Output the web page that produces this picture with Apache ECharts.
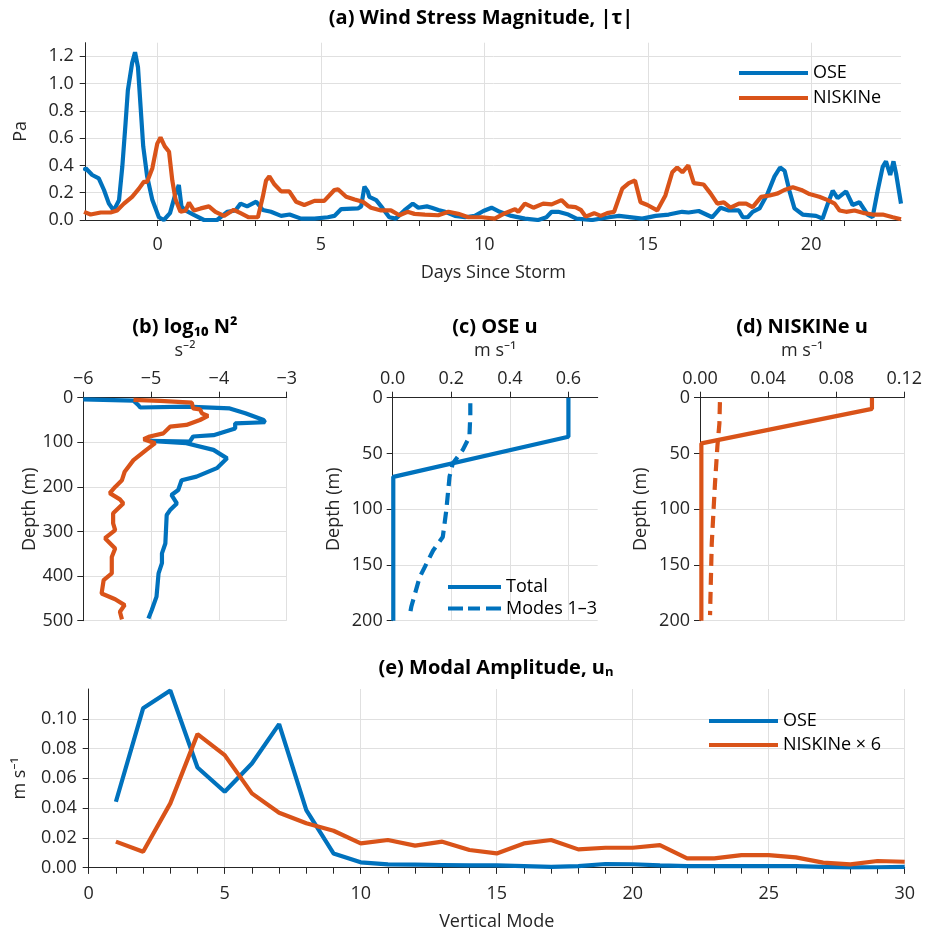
<!DOCTYPE html>
<html>
<head>
<meta charset="utf-8">
<script src="https://cdn.jsdelivr.net/npm/echarts@6/dist/echarts.min.js"></script>
<style>
html,body{margin:0;padding:0;background:#fff}
#chart{width:937px;height:933px}
</style>
</head>
<body>
<div id="chart"></div>
<script>
// (a) wind stress magnitude (Pa) vs days since storm
var oseDays = [-2.25,-2.2,-2.0,-1.8,-1.64,-1.49,-1.34,-1.18,-1.08,-0.98,-0.91,-0.78,-0.69,-0.6,-0.52,-0.44,-0.32,-0.16,0.04,0.19,
  0.38,0.52,0.65,0.73,0.85,1.11,1.42,1.82,2.13,2.38,2.54,2.74,3.02,3.22,3.47,3.78,4.04,4.39,4.8,5.21,
  5.41,5.62,6.13,6.23,6.33,6.43,6.48,6.69,6.89,7.09,7.29,7.55,7.81,7.98,8.24,8.39,8.59,8.8,9.1,9.41,
  9.71,9.97,10.22,10.47,10.83,11.24,11.65,11.9,12.06,12.26,12.57,12.82,13.3,13.81,14.12,14.83,15.24,15.64,16.05,16.25,
  16.56,16.97,17.23,17.48,17.79,17.91,18.06,18.21,18.42,18.67,18.88,19.05,19.19,19.34,19.49,19.74,20.15,20.35,20.51,20.66,
  20.81,21.07,21.27,21.48,21.73,21.88,22.04,22.19,22.29,22.42,22.52,22.6,22.75]
var oseTau = [0.36,0.38,0.33,0.305,0.22,0.12,0.07,0.146,0.39,0.71,0.95,1.15,1.23,1.12,0.83,0.54,0.32,0.146,0.02,0.0,
  0.05,0.17,0.256,0.10,0.07,0.037,0.0,0.0,0.06,0.07,0.12,0.10,0.134,0.073,0.06,0.03,0.04,0.01,0.01,0.02,
  0.03,0.08,0.085,0.10,0.245,0.21,0.17,0.146,0.085,0.02,0.01,0.07,0.12,0.09,0.10,0.09,0.073,0.06,0.03,0.02,
  0.03,0.066,0.09,0.06,0.03,0.01,0.0,0.02,0.06,0.06,0.04,0.01,0.0,0.02,0.03,0.01,0.03,0.04,0.06,0.055,
  0.066,0.02,0.09,0.07,0.07,0.02,0.02,0.06,0.085,0.195,0.32,0.385,0.36,0.21,0.085,0.04,0.03,0.01,0.12,0.215,
  0.16,0.21,0.11,0.13,0.04,0.02,0.22,0.39,0.43,0.33,0.43,0.34,0.12]
var nisDays = [-2.25,-2.05,-1.74,-1.44,-1.24,-1.03,-0.78,-0.57,-0.42,-0.32,-0.16,-0.01,0.09,0.22,0.35,0.45,0.55,0.7,0.86,0.96,
  1.11,1.32,1.57,1.77,2.03,2.33,2.54,2.79,3.07,3.22,3.32,3.42,3.58,3.78,4.03,4.24,4.49,4.8,5.1,5.41,
  5.52,5.77,6.03,6.28,6.53,6.84,7.14,7.4,7.65,7.86,8.18,8.59,8.9,9.2,9.51,9.92,10.32,10.63,10.94,11.04,
  11.24,11.5,11.8,12.06,12.36,12.56,12.79,12.95,13.1,13.36,13.56,13.76,13.97,14.22,14.42,14.61,14.78,14.99,15.29,15.54,
  15.75,15.9,16.06,16.24,16.41,16.71,16.92,17.13,17.33,17.53,17.79,18.01,18.21,18.47,18.73,18.98,19.18,19.44,19.7,19.95,
  20.25,20.51,20.72,20.87,21.07,21.33,21.63,21.88,22.19,22.5,22.75]
var nisTau = [0.06,0.04,0.055,0.055,0.07,0.12,0.17,0.23,0.28,0.28,0.38,0.56,0.605,0.54,0.50,0.29,0.15,0.06,0.07,0.127,
  0.07,0.085,0.10,0.06,0.03,0.075,0.05,0.02,0.02,0.17,0.29,0.32,0.26,0.21,0.21,0.134,0.11,0.14,0.14,0.22,
  0.225,0.17,0.15,0.134,0.09,0.07,0.07,0.035,0.06,0.045,0.04,0.035,0.06,0.045,0.02,0.02,0.01,0.05,0.08,0.06,
  0.12,0.09,0.12,0.115,0.146,0.10,0.095,0.075,0.025,0.05,0.03,0.05,0.06,0.23,0.27,0.29,0.13,0.11,0.07,0.18,
  0.35,0.385,0.35,0.40,0.27,0.26,0.195,0.12,0.13,0.09,0.12,0.12,0.095,0.17,0.18,0.195,0.22,0.24,0.22,0.19,
  0.17,0.146,0.12,0.07,0.06,0.07,0.05,0.04,0.04,0.02,0.005]

// (b) log10 N^2 profiles (s^-2) vs depth (m)
var oseN2 = [-6.0,-5.26,-5.19,-5.16,-4.48,-3.84,-3.61,-3.34,-3.32,-3.76,-3.76,-4.08,-4.38,-4.43,-5.02,-4.48,-4.08,-3.88,-4.03,-4.33,
  -4.55,-4.60,-4.70,-4.62,-4.72,-4.77,-4.79,-4.84,-4.84,-4.89,-4.92,-4.99,-5.04]
var oseN2Depth = [3.7,6.7,16.4,22,20,24,35,50,55,57.5,69,84,87,98.7,97,102,117,136,158,177,
  185,207,218,237,252,263,327,349,371,394,446,476,495]
var nisN2 = [-5.26,-4.87,-4.40,-4.38,-4.28,-4.25,-4.16,-4.28,-4.48,-4.72,-4.82,-5.02,-5.11,-4.94,-5.07,-5.26,-5.39,-5.43,-5.53,-5.61,
  -5.46,-5.41,-5.56,-5.56,-5.53,-5.68,-5.53,-5.58,-5.58,-5.70,-5.73,-5.53,-5.39,-5.46,-5.43]
var nisN2Depth = [5,7,11,24,26,35,41,50,61,65,80,87,93,102,117,140,166,185,200,214,
  228,237,259,282,297,315,338,357,394,409,439,452,465,480,497]

// (c) OSE u (m/s) vs depth
var oseTotalU = [0.6,0.6,0.002,0.002]
var oseTotalDepth = [0,35,71,200]
var oseModesU = [0.265,0.265,0.262,0.239,0.205,0.194,0.183,0.171,0.138,0.092,0.064,0.058]
var oseModesDepth = [5,15,35,47,59,71,101,125,137,161,187,195]

// (d) NISKINe u (m/s) vs depth
var nisTotalU = [0.101,0.101,0.0008,0.0008]
var nisTotalDepth = [0,10,41,200]
var nisModesU = [0.0117,0.0114,0.0102,0.0088,0.0069,0.0059]
var nisModesDepth = [4,23,44,77,131,195]

// (e) modal amplitude (m/s) by vertical mode
var modes = [1,2,3,4,5,6,7,8,9,10,11,12,13,14,15,16,17,18,19,20,21,22,23,24,25,26,27,28,29,30]
var oseAmp = [0.0443,0.107,0.119,0.0673,0.051,0.070,0.0964,0.0387,0.0096,0.0036,
  0.0022,0.002,0.0018,0.0015,0.0015,0.001,0.0005,0.001,0.0025,0.0023,
  0.0015,0.001,0.001,0.001,0.001,0.001,0.0005,0.0002,0.0003,0.0005]
var nisAmp6 = [0.0175,0.0107,0.0432,0.0897,0.0756,0.0499,0.0369,0.0298,0.0248,0.0163,
  0.0186,0.0148,0.0175,0.0119,0.0096,0.0163,0.0186,0.0123,0.0134,0.0134,
  0.0152,0.0063,0.0063,0.0085,0.0085,0.0069,0.0034,0.0022,0.0045,0.004]

// tick labels
var dayTicks = [0,5,10,15,20]
var tauTicks = [0,0.2,0.4,0.6,0.8,1.0,1.2]
var n2Ticks = [-6,-5,-4,-3]
var n2DepthTicks = [0,100,200,300,400,500]
var oseUTicks = [0,0.2,0.4,0.6]
var nisUTicks = [0,0.04,0.08,0.12]
var uDepthTicks = [0,50,100,150,200]
var modeTicks = [0,5,10,15,20,25,30]
var ampTicks = [0,0.02,0.04,0.06,0.08,0.10]

var blue = '#0072BD', orange = '#D95319'
var ink = '#262626', gridCol = '#e0e0e0'
var font = '"Open Sans", "Noto Sans", "DejaVu Sans", sans-serif'
var titleFont = 'bold 20px ' + font
var dashIcon = 'path://M0,0h15v4h-15z M20,0h12v4h-12z M38,0h15v4h-15z'

function pairs(xs, ys) {
  var out = []
  for (var i = 0; i < xs.length; i++) out.push([xs[i], ys[i]])
  return out
}
function steps(a, b) {
  var out = []
  for (var v = a; v <= b; v++) out.push(v)
  return out
}
function fixed(n) { return function (v) { return v.toFixed(n) } }
function minus(v) { return v < 0 ? '\u2212' + Math.abs(v) : '' + v }

function axis(o) {
  var a = {
    type: 'value',
    gridIndex: o.grid,
    min: o.min, max: o.max,
    inverse: !!o.inverse,
    position: o.position,
    axisLine: { show: o.line !== false, onZero: false, lineStyle: { color: ink, width: 1 } },
    axisTick: { show: true, length: 6, lineStyle: { color: ink }, customValues: o.ticks },
    axisLabel: {
      show: o.labels !== false, customValues: o.ticks, formatter: o.fmt,
      color: ink, fontSize: 18, fontFamily: font, margin: o.margin || 10
    },
    splitLine: { show: o.split !== false, lineStyle: { color: gridCol, width: 1 } }
  }
  if (o.name) {
    a.name = o.name
    a.nameLocation = 'middle'
    a.nameGap = o.nameGap
    a.nameTextStyle = { color: ink, fontSize: 18, fontFamily: font }
  }
  return a
}

function line(name, xi, yi, data, color, dashed) {
  return {
    name: name, type: 'line', xAxisIndex: xi, yAxisIndex: yi,
    data: data, symbol: 'none', showSymbol: false, color: color,
    lineStyle: { width: 4.2, color: color, type: dashed ? [12, 7] : 'solid' }
  }
}

function legendBox(items, left, top, width, gap) {
  return {
    data: items, orient: 'vertical', left: left, top: top,
    itemWidth: width, itemHeight: 4, itemGap: gap, selectedMode: false,
    textStyle: { color: '#000', fontSize: 18, lineHeight: 20, fontFamily: font }
  }
}

var chart = echarts.init(document.getElementById('chart'))
chart.setOption({
  animation: false,
  backgroundColor: '#fff',
  textStyle: { fontFamily: font },
  grid: [
    { left: 85.7, top: 42.7, width: 815.3, height: 177.3 },
    { left: 83.3, top: 397.7, width: 203.4, height: 223 },
    { left: 392.7, top: 397.7, width: 205, height: 223 },
    { left: 700, top: 397.7, width: 204.3, height: 223 },
    { left: 88.7, top: 689, width: 816, height: 178.7 }
  ],
  xAxis: [
    axis({ grid: 0, min: -2.2, max: 22.75, position: 'bottom', ticks: dayTicks, name: 'Days Since Storm', nameGap: 44, margin: 16 }),
    axis({ grid: 0, min: -2.2, max: 22.75, position: 'bottom', ticks: steps(0, 22), line: false, labels: false, split: false }),
    axis({ grid: 1, min: -6, max: -3, position: 'top', ticks: n2Ticks, fmt: minus, name: 's\u207B\u00B2', nameGap: 38 }),
    axis({ grid: 2, min: 0, max: 0.7, position: 'top', ticks: oseUTicks, fmt: fixed(1), name: 'm s\u207B\u00B9', nameGap: 38 }),
    axis({ grid: 3, min: 0, max: 0.12, position: 'top', ticks: nisUTicks, fmt: fixed(2), name: 'm s\u207B\u00B9', nameGap: 38 }),
    axis({ grid: 4, min: 0, max: 30, position: 'bottom', ticks: modeTicks, name: 'Vertical Mode', nameGap: 45, margin: 17 }),
    axis({ grid: 4, min: 0, max: 30, position: 'bottom', ticks: steps(0, 30), line: false, labels: false, split: false })
  ],
  yAxis: [
    axis({ grid: 0, min: 0, max: 1.3, position: 'left', ticks: tauTicks, fmt: fixed(1), name: 'Pa', nameGap: 56, margin: 12 }),
    axis({ grid: 1, min: 0, max: 500, inverse: true, position: 'left', ticks: n2DepthTicks, name: 'Depth (m)', nameGap: 44 }),
    axis({ grid: 2, min: 0, max: 200, inverse: true, position: 'left', ticks: uDepthTicks, name: 'Depth (m)', nameGap: 50 }),
    axis({ grid: 3, min: 0, max: 200, inverse: true, position: 'left', ticks: uDepthTicks, name: 'Depth (m)', nameGap: 50 }),
    axis({ grid: 4, min: 0, max: 0.12, position: 'left', ticks: ampTicks, fmt: fixed(2), name: 'm s\u207B\u00B9', nameGap: 60, margin: 12 })
  ],
  legend: [
    legendBox([{ name: 'OSE', icon: 'rect' }, { name: 'NISKINe', icon: 'rect' }], 734, 58, 69, 5),
    legendBox([{ name: 'Total', icon: 'rect' }, { name: 'Modes 1\u20133', icon: dashIcon }], 443, 572, 53, 1.5),
    legendBox([{ name: 'OSE', icon: 'rect' }, { name: 'NISKINe \u00D7 6', icon: 'rect' }], 704, 706, 69, 4)
  ],
  graphic: [
    { type: 'text', x: 481, y: 18, style: { text: '(a) Wind Stress Magnitude, |\u03C4|', fill: '#000', font: titleFont, align: 'center', verticalAlign: 'middle' } },
    { type: 'text', x: 185, y: 327, style: { text: '(b) log\u2081\u2080 N\u00B2', fill: '#000', font: titleFont, align: 'center', verticalAlign: 'middle' } },
    { type: 'text', x: 495, y: 327, style: { text: '(c) OSE u', fill: '#000', font: titleFont, align: 'center', verticalAlign: 'middle' } },
    { type: 'text', x: 802, y: 327, style: { text: '(d) NISKINe u', fill: '#000', font: titleFont, align: 'center', verticalAlign: 'middle' } },
    { type: 'text', x: 496, y: 668, style: { text: '(e) Modal Amplitude, u\u2099', fill: '#000', font: titleFont, align: 'center', verticalAlign: 'middle' } }
  ],
  series: [
    line('OSE', 0, 0, pairs(oseDays, oseTau), blue),
    line('NISKINe', 0, 0, pairs(nisDays, nisTau), orange),
    line('OSE N2', 2, 1, pairs(oseN2, oseN2Depth), blue),
    line('NISKINe N2', 2, 1, pairs(nisN2, nisN2Depth), orange),
    line('Total', 3, 2, pairs(oseTotalU, oseTotalDepth), blue),
    line('Modes 1\u20133', 3, 2, pairs(oseModesU, oseModesDepth), blue, true),
    line('NISKINe total', 4, 3, pairs(nisTotalU, nisTotalDepth), orange),
    line('NISKINe modes', 4, 3, pairs(nisModesU, nisModesDepth), orange, true),
    line('OSE', 5, 4, pairs(modes, oseAmp), blue),
    line('NISKINe \u00D7 6', 5, 4, pairs(modes, nisAmp6), orange)
  ]
})
</script>
</body>
</html>
